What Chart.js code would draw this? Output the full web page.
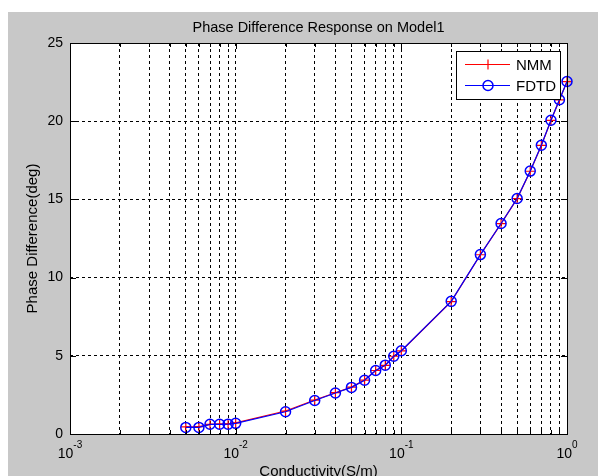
<!DOCTYPE html>
<html>
<head>
<meta charset="utf-8">
<script src="https://cdn.jsdelivr.net/npm/chart.js@4/dist/chart.umd.min.js"></script>
<style>
  html, body { margin: 0; padding: 0; background: #fff; }
  canvas { display: block; }
</style>
</head>
<body>
<canvas id="chart" width="598" height="476"></canvas>
<script>
// conductivity (S/m)
const conductivity = [0.005, 0.006, 0.007, 0.008, 0.009, 0.01, 0.02, 0.03, 0.04, 0.05, 0.06, 0.07, 0.08, 0.09, 0.1, 0.2, 0.3, 0.4, 0.5, 0.6, 0.7, 0.8, 0.9, 1.0];
// phase difference (deg)
const nmmValues  = [0.45, 0.47, 0.61, 0.63, 0.65, 0.71, 1.47, 2.17, 2.64, 3.00, 3.45, 4.06, 4.39, 4.97, 5.31, 8.47, 11.46, 13.45, 15.05, 16.80, 18.45, 20.05, 21.36, 22.53];
const fdtdValues = [0.42, 0.42, 0.62, 0.62, 0.63, 0.68, 1.42, 2.14, 2.62, 2.98, 3.44, 4.06, 4.40, 4.97, 5.32, 8.48, 11.47, 13.46, 15.06, 16.81, 18.46, 20.06, 21.37, 22.54];
const yTickValues = [0, 5, 10, 15, 20, 25];
const xTickExponents = [-3, -2, -1, 0];

const titleText = 'Phase Difference Response on Model1';
const xLabel = 'Conductivity(S/m)';
const yLabel = 'Phase Difference(deg)';
const FONT = '"Liberation Sans", Arial, sans-serif';

// minor + major positions for the log grid
const xGridValues = [];
xTickExponents.forEach(e => {
  if (e === 0) { xGridValues.push(1); return; }
  for (let m = 1; m <= 9; m++) xGridValues.push(m * Math.pow(10, e));
});

const toPoints = vals => conductivity.map((x, i) => ({ x, y: vals[i] }));

const matlabLook = {
  id: 'matlabLook',
  beforeDraw(chart) {
    const { ctx, chartArea: a } = chart;
    ctx.save();
    ctx.fillStyle = '#fff';
    ctx.fillRect(0, 0, chart.width, chart.height);
    ctx.fillStyle = '#c8c8c8';
    ctx.fillRect(8, 12, chart.width - 8, chart.height - 12);
    ctx.fillStyle = '#fff';
    ctx.fillRect(a.left, a.top, a.right - a.left, a.bottom - a.top);
    ctx.restore();
  },
  afterDraw(chart) {
    const { ctx, chartArea: a, scales } = chart;
    const xs = scales.x, ys = scales.y;
    ctx.save();

    // tick marks on all four sides
    ctx.strokeStyle = '#000';
    ctx.lineWidth = 1;
    ctx.beginPath();
    xGridValues.forEach(v => {
      const px = Math.round(xs.getPixelForValue(v)) + 0.5;
      const major = Math.abs(Math.log10(v) - Math.round(Math.log10(v))) < 1e-9;
      const len = major ? 6 : 4;
      ctx.moveTo(px, a.bottom); ctx.lineTo(px, a.bottom - len);
      ctx.moveTo(px, a.top); ctx.lineTo(px, a.top + len);
    });
    yTickValues.forEach(v => {
      const py = Math.round(ys.getPixelForValue(v)) + 0.5;
      ctx.moveTo(a.left, py); ctx.lineTo(a.left + 6, py);
      ctx.moveTo(a.right, py); ctx.lineTo(a.right - 6, py);
    });
    ctx.stroke();

    // frame
    ctx.strokeRect(Math.round(a.left) + 0.5, Math.round(a.top) + 0.5,
      Math.round(a.right - a.left), Math.round(a.bottom - a.top));

    // y tick labels
    ctx.fillStyle = '#000';
    ctx.font = '14px ' + FONT;
    ctx.textAlign = 'right';
    ctx.textBaseline = 'middle';
    yTickValues.forEach(v => {
      ctx.fillText(String(v), a.left - 7, ys.getPixelForValue(v));
    });

    // x tick labels 10^e
    ctx.textBaseline = 'alphabetic';
    ctx.textAlign = 'left';
    xTickExponents.forEach(e => {
      const px = xs.getPixelForValue(Math.pow(10, e));
      ctx.font = '14px ' + FONT;
      const base = '10';
      const bw = ctx.measureText(base).width;
      ctx.font = '10px ' + FONT;
      const ex = String(e);
      const ew = ctx.measureText(ex).width;
      const x0 = px - (bw + ew) / 2;
      ctx.font = '14px ' + FONT;
      ctx.fillText(base, x0, a.bottom + 24);
      ctx.font = '10px ' + FONT;
      ctx.fillText(ex, x0 + bw, a.bottom + 14);
    });

    // title and axis labels
    ctx.font = '14.5px ' + FONT;
    ctx.textAlign = 'center';
    ctx.fillText(titleText, (a.left + a.right) / 2, 32);
    ctx.font = '15px ' + FONT;
    ctx.textBaseline = 'top';
    ctx.fillText(xLabel, (a.left + a.right) / 2, a.bottom + 30);
    ctx.save();
    ctx.translate(33, (a.top + a.bottom) / 2);
    ctx.rotate(-Math.PI / 2);
    ctx.textBaseline = 'middle';
    ctx.fillText(yLabel, 0, 0);
    ctx.restore();

    // legend box
    const lx = 456.5, ly = 51.5, lw = 104, lh = 48;
    ctx.fillStyle = '#fff';
    ctx.fillRect(lx, ly, lw, lh);
    ctx.strokeStyle = '#000';
    ctx.strokeRect(lx, ly, lw, lh);
    const rows = [
      { ds: chart.data.datasets[0], y: 64.5 },
      { ds: chart.data.datasets[1], y: 85.5 }
    ];
    rows.forEach(r => {
      ctx.strokeStyle = r.ds.borderColor;
      ctx.lineWidth = 1.2;
      ctx.beginPath();
      ctx.moveTo(465, r.y); ctx.lineTo(510, r.y);
      ctx.stroke();
      ctx.beginPath();
      if (r.ds.pointStyle === 'cross') {
        ctx.moveTo(488, r.y - 5); ctx.lineTo(488, r.y + 5);
        ctx.moveTo(483, r.y); ctx.lineTo(493, r.y);
      } else {
        ctx.lineWidth = 1.5;
        ctx.arc(488, r.y, 5, 0, Math.PI * 2);
      }
      ctx.stroke();
      ctx.fillStyle = '#000';
      ctx.font = '15px ' + FONT;
      ctx.textAlign = 'left';
      ctx.textBaseline = 'middle';
      ctx.fillText(r.ds.label, 516, r.y + 1);
    });

    ctx.restore();
  }
};

new Chart(document.getElementById('chart'), {
  type: 'line',
  data: {
    datasets: [
      {
        label: 'NMM',
        data: toPoints(nmmValues),
        borderColor: '#ff0000',
        borderWidth: 1.2,
        pointStyle: 'cross',
        pointRadius: 5,
        pointBorderColor: '#ff0000',
        pointBorderWidth: 1.2,
        tension: 0,
        clip: false,
        order: 2
      },
      {
        label: 'FDTD',
        data: toPoints(fdtdValues),
        borderColor: '#0000ff',
        borderWidth: 1.2,
        pointStyle: 'circle',
        pointRadius: 5,
        pointBackgroundColor: 'rgba(0,0,0,0)',
        pointBorderColor: '#0000ff',
        pointBorderWidth: 1.5,
        tension: 0,
        clip: false,
        order: 1
      }
    ]
  },
  options: {
    responsive: false,
    animation: false,
    layout: { padding: { left: 70, right: 31, top: 43, bottom: 42 } },
    plugins: { legend: { display: false }, tooltip: { enabled: false }, title: { display: false } },
    scales: {
      x: {
        type: 'logarithmic',
        min: 0.001,
        max: 1,
        ticks: { display: false },
        grid: { color: '#000', lineWidth: 1, drawTicks: false },
        border: { display: false, dash: [3, 3] },
        afterBuildTicks: s => { s.ticks = xGridValues.map(v => ({ value: v })); },
        afterFit: s => { s.height = 0; }
      },
      y: {
        type: 'linear',
        min: 0,
        max: 25,
        ticks: { display: false },
        grid: { color: '#000', lineWidth: 1, drawTicks: false },
        border: { display: false, dash: [3, 3] },
        afterBuildTicks: s => { s.ticks = yTickValues.map(v => ({ value: v })); },
        afterFit: s => { s.width = 0; }
      }
    }
  },
  plugins: [matlabLook]
});
</script>
</body>
</html>
